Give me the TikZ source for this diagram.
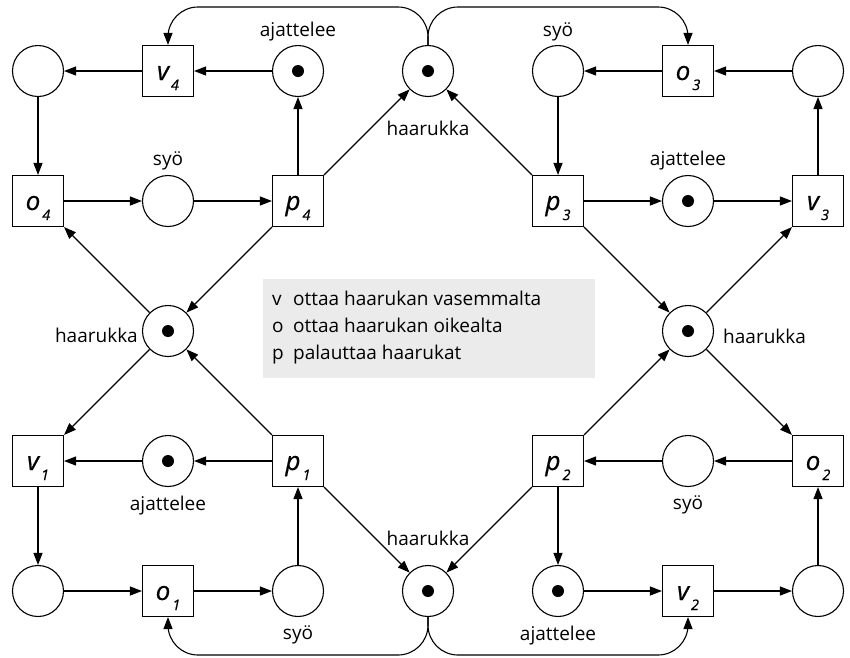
\documentclass[tikz,border=0pt]{standalone}
\usepackage{fontspec}
\setmainfont{Open Sans}
\usetikzlibrary{arrows.meta}
\definecolor{legendgray}{RGB}{235,235,235}
\begin{document}
\begin{tikzpicture}[x=1pt,y=-1pt,
  place/.style={circle,draw,minimum size=51pt,inner sep=0pt,line width=1.1pt},
  tokplace/.style={place,path picture={\fill (path picture bounding box.center) circle (6pt);}},
  trans/.style={rectangle,draw,minimum size=51pt,inner sep=0pt,line width=1.1pt,
    text height=18pt,text depth=0pt,font=\fontsize{26}{26}\selectfont\itshape\addfontfeatures{FakeBold=0.7}},
  arc/.style={-{Triangle[length=12pt,width=9pt]},line width=1.1pt},
  lbl/.style={font=\fontsize{19}{22}\selectfont,inner sep=0pt},
]
\newcommand{\tl}[2]{#1\hspace{2pt}\raisebox{-10pt}[0pt][0pt]{\fontsize{14.5}{14.5}\selectfont #2}}
\useasboundingbox (0,0) rectangle (850,657);
% legend
\fill[legendgray] (263,279) rectangle (595,378);
\node[lbl,anchor=base west] (k1) at (272,305) {v};
\node[lbl,anchor=base west] (t1) at (293,305) {ottaa haarukan vasemmalta};
\node[lbl,anchor=base west] (k2) at (272,332) {o};
\node[lbl,anchor=base west] (t2) at (293,332) {ottaa haarukan oikealta};
\node[lbl,anchor=base west] (k3) at (272,359) {p};
\node[lbl,anchor=base west] (t3) at (293,359) {palauttaa haarukat};
% row 1
\node[place] (c4) at (38,71) {};
\node[trans] (v4) at (168,71) {\tl{v}{4}};
\node[tokplace] (a4) at (298,71) {};
\node[tokplace] (hT) at (428,71) {};
\node[place] (s3) at (558,71) {};
\node[trans] (o3) at (688,71) {\tl{o}{3}};
\node[place] (c3) at (818,71) {};
% row 2
\node[trans] (o4) at (38,201) {\tl{o}{4}};
\node[place] (s4) at (168,201) {};
\node[trans] (p4) at (298,201) {\tl{p}{4}};
\node[trans] (p3) at (558,201) {\tl{p}{3}};
\node[tokplace] (a3) at (688,201) {};
\node[trans] (v3) at (818,201) {\tl{v}{3}};
% row 3
\node[tokplace] (hL) at (168,331) {};
\node[tokplace] (hR) at (688,331) {};
% row 4
\node[trans] (v1) at (38,461) {\tl{v}{1}};
\node[tokplace] (a1) at (168,461) {};
\node[trans] (p1) at (298,461) {\tl{p}{1}};
\node[trans] (p2) at (558,461) {\tl{p}{2}};
\node[place] (s2) at (688,461) {};
\node[trans] (o2) at (818,461) {\tl{o}{2}};
% row 5
\node[place] (c1) at (38,591) {};
\node[trans] (o1) at (168,591) {\tl{o}{1}};
\node[place] (s1) at (298,591) {};
\node[tokplace] (hB) at (428,591) {};
\node[tokplace] (a2) at (558,591) {};
\node[trans] (v2) at (688,591) {\tl{v}{2}};
\node[place] (c2) at (818,591) {};
% labels
\node[lbl,anchor=base] (la4) at (298,36) {ajattelee};
\node[lbl,anchor=base] (ls3) at (558,36) {syö};
\node[lbl,anchor=base] (ls4) at (168,165) {syö};
\node[lbl,anchor=base] (la3) at (688,165) {ajattelee};
\node[lbl,anchor=base] (lhT) at (428,135) {haarukka};
\node[lbl,anchor=base east] (lhL) at (138,342) {haarukka};
\node[lbl,anchor=base west] (lhR) at (723,343) {haarukka};
\node[lbl,anchor=base] (la1) at (168,510) {ajattelee};
\node[lbl,anchor=base] (ls2) at (688,509) {syö};
\node[lbl,anchor=base] (lhB) at (428,545) {haarukka};
\node[lbl,anchor=base] (ls1) at (298,639) {syö};
\node[lbl,anchor=base] (la2) at (558,640) {ajattelee};
% philosopher 4
\draw[arc] (a4) -- (v4);
\draw[arc] (v4) -- (c4);
\draw[arc] (c4) -- (o4);
\draw[arc] (o4) -- (s4);
\draw[arc] (s4) -- (p4);
\draw[arc] (p4) -- (a4);
\draw[arc] (p4.north east) -- (hT);
\draw[arc] (p4.south west) -- (hL);
\draw[arc] (hL) -- (o4.south east);
\draw[arc,rounded corners=30pt] (hT.north) -- (428,7) -- (168,7) -- (v4.north);
% philosopher 3
\draw[arc] (c3) -- (o3);
\draw[arc] (o3) -- (s3);
\draw[arc] (s3) -- (p3);
\draw[arc] (p3.north west) -- (hT);
\draw[arc] (p3) -- (a3);
\draw[arc] (a3) -- (v3);
\draw[arc] (v3) -- (c3);
\draw[arc] (p3.south east) -- (hR);
\draw[arc] (hR) -- (v3.south west);
\draw[arc,rounded corners=30pt] (hT.north) -- (428,7) -- (688,7) -- (o3.north);
% philosopher 2
\draw[arc] (hR) -- (o2.north west);
\draw[arc] (o2) -- (s2);
\draw[arc] (s2) -- (p2);
\draw[arc] (p2.north east) -- (hR);
\draw[arc] (p2.south west) -- (hB);
\draw[arc] (p2) -- (a2);
\draw[arc] (a2) -- (v2);
\draw[arc] (v2) -- (c2);
\draw[arc] (c2) -- (o2);
\draw[arc,rounded corners=30pt] (hB.south) -- (428,655) -- (688,655) -- (v2.south);
% philosopher 1
\draw[arc] (hL) -- (v1.north east);
\draw[arc] (p1) -- (a1);
\draw[arc] (a1) -- (v1);
\draw[arc] (v1) -- (c1);
\draw[arc] (c1) -- (o1);
\draw[arc] (o1) -- (s1);
\draw[arc] (s1) -- (p1);
\draw[arc] (p1.north west) -- (hL);
\draw[arc] (p1.south east) -- (hB);
\draw[arc,rounded corners=30pt] (hB.south) -- (428,655) -- (168,655) -- (o1.south);
\end{tikzpicture}
\end{document}
